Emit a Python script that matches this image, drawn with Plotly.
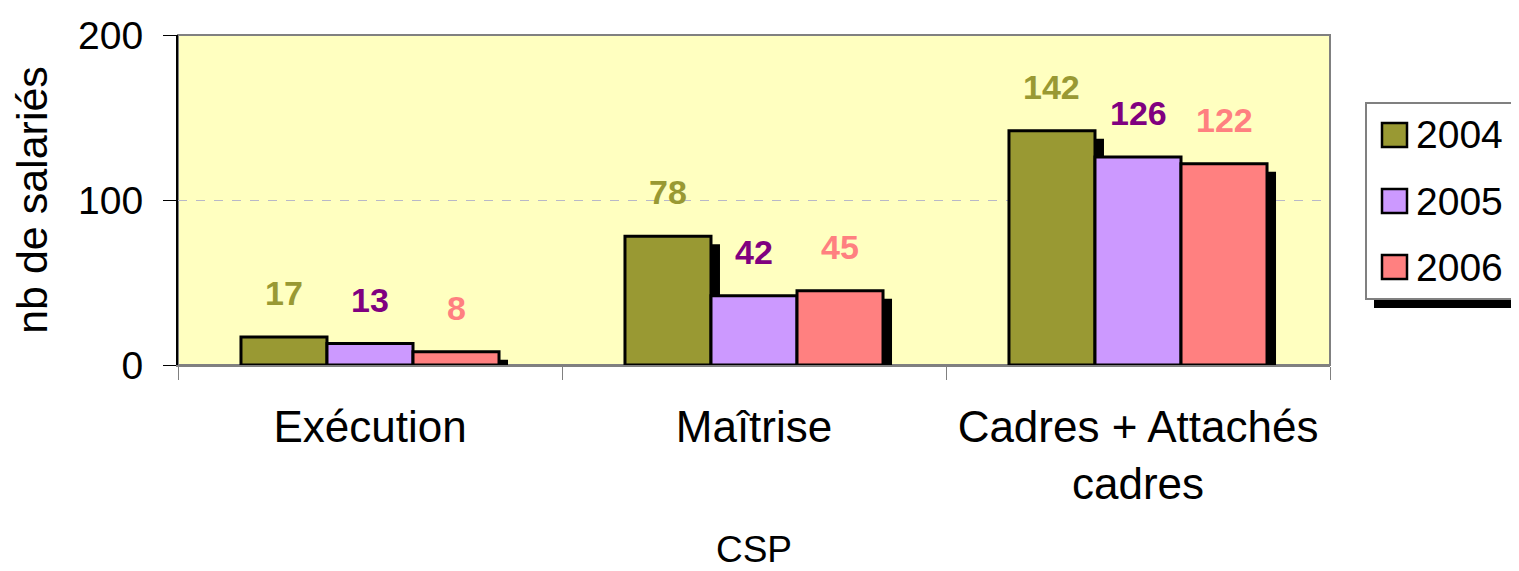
import plotly.graph_objects as go

# data
categories = ["Exécution", "Maîtrise", "Cadres + Attachés<br>cadres"]
years = ["2004", "2005", "2006"]
values_2004 = [17, 78, 142]
values_2005 = [13, 42, 126]
values_2006 = [8, 45, 122]
y_ticks = [0, 100, 200]

series = [values_2004, values_2005, values_2006]
fill_colors = ["#999933", "#CC99FF", "#FF8080"]
label_colors = ["#999933", "#800080", "#FF8080"]

FONT = "Arial, Liberation Sans, sans-serif"
W, H = 1519, 571
PAGE = 8  # default body margin of the html page
margin = dict(l=178 - PAGE, r=197, t=35 - PAGE, b=214)
plot_w = W - margin["l"] - margin["r"]
plot_h = H - margin["t"] - margin["b"]
y_max = 200
bar_w = 0.224
n = len(series)


def px_x(p):
    # screen pixel column -> paper x
    return (p - PAGE - margin["l"]) / plot_w


def px_y(p):
    # screen pixel row -> paper y
    return (margin["t"] + plot_h - (p - PAGE)) / plot_h


fig = go.Figure()
shapes = []
annotations = []

dx = 9 * len(categories) / plot_w   # shadow offset, data units
dy = 8 * y_max / plot_h

for k, (year, vals) in enumerate(zip(years, series)):
    fig.add_trace(go.Bar(
        x=categories, y=vals, name=year,
        marker=dict(color=fill_colors[k], line=dict(color="black", width=3)),
        showlegend=False,
    ))
    off = (k - (n - 1) / 2) * bar_w
    for i, v in enumerate(vals):
        c = i + off
        # drop shadow behind each bar
        shapes.append(dict(
            type="rect", xref="x", yref="y", layer="below",
            x0=c - bar_w / 2 + dx, x1=c + bar_w / 2 + dx,
            y0=0, y1=max(v - dy, 0),
            fillcolor="black", line=dict(width=0),
        ))
        annotations.append(dict(
            x=c, y=v, xref="x", yref="y", text=str(v), showarrow=False,
            yshift=44, yanchor="middle",
            font=dict(family=FONT, size=34, color=label_colors[k], weight="bold"),
        ))

# plot area border (top / right)
shapes.append(dict(type="rect", xref="paper", yref="paper", x0=0, x1=1, y0=0, y1=1,
                   layer="below", line=dict(color="#808080", width=2)))

# legend box with shadow
shapes.append(dict(type="rect", xref="paper", yref="paper",
                   x0=px_x(1374), x1=px_x(1540), y0=px_y(308), y1=px_y(112),
                   fillcolor="black", line=dict(width=0)))
shapes.append(dict(type="rect", xref="paper", yref="paper",
                   x0=px_x(1366), x1=px_x(1540), y0=px_y(299), y1=px_y(103),
                   fillcolor="white", line=dict(color="#808080", width=2)))
for k, year in enumerate(years):
    cy = 135 + 66 * k
    shapes.append(dict(type="rect", xref="paper", yref="paper",
                       x0=px_x(1382), x1=px_x(1407), y0=px_y(cy + 12), y1=px_y(cy - 12),
                       fillcolor=fill_colors[k], line=dict(color="black", width=2.5)))
    annotations.append(dict(
        x=px_x(1414), y=px_y(cy), xref="paper", yref="paper", text=year,
        showarrow=False, xanchor="left", yanchor="middle",
        font=dict(family=FONT, size=39, color="black"),
    ))

fig.update_layout(
    width=W, height=H,
    margin=margin,
    barmode="group",
    bargap=1 - n * bar_w,
    bargroupgap=0,
    plot_bgcolor="#FFFFC0",
    paper_bgcolor="white",
    font=dict(family=FONT, color="black"),
    shapes=shapes,
    annotations=annotations,
    xaxis=dict(
        range=[-0.5, len(categories) - 0.5],
        tickson="boundaries", ticks="outside", ticklen=13, tickcolor="#808080",
        showline=True, linecolor="#808080", linewidth=2,
        showgrid=False,
        tickfont=dict(size=44),
        ticklabelstandoff=22,
        title=dict(text="CSP", font=dict(size=37), standoff=29),
        automargin=False,
    ),
    yaxis=dict(
        range=[0, y_max], tickvals=y_ticks,
        ticks="outside", ticklen=13, tickcolor="black",
        showline=True, linecolor="black", linewidth=2,
        showgrid=True, gridcolor="#B8B8C8", griddash="dash", gridwidth=1,
        zeroline=False,
        tickfont=dict(size=39),
        ticklabelstandoff=12,
        title=dict(text="nb de salariés", font=dict(size=43), standoff=20),
        automargin=False,
    ),
)

fig.write_html("out.html")
